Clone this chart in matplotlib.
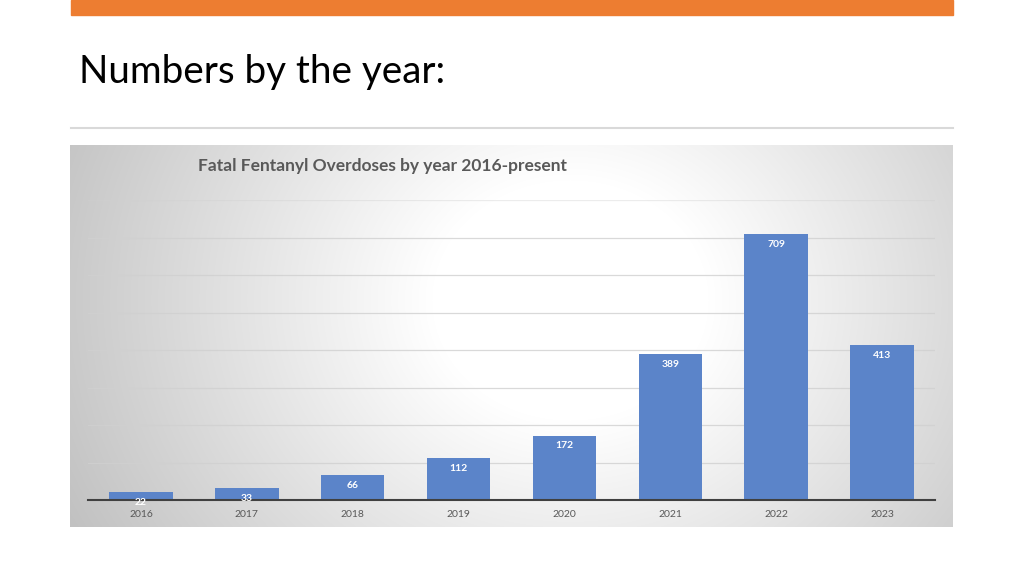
import numpy as np
import matplotlib.pyplot as plt
from matplotlib.patches import Rectangle
from matplotlib.lines import Line2D

years = ["2016", "2017", "2018", "2019", "2020", "2021", "2022", "2023"]
deaths = [22, 33, 66, 112, 172, 389, 709, 413]
grid_vals = [100, 200, 300, 400, 500, 600, 700, 800]

W, H = 1024, 576
fig = plt.figure(figsize=(W / 100, H / 100), dpi=100)
fig.patch.set_facecolor("white")

def fx(px):
    return px / W

def fy(py):
    return 1 - py / H

# orange strip on top
fig.patches.append(Rectangle((fx(71), fy(15)), fx(953) - fx(71), fy(0) - fy(15),
                             transform=fig.transFigure, color="#ED7D31", zorder=0))
# slide title
fig.text(fx(79), fy(72), "Numbers by the year:", fontsize=27.8, family="Lato",
         color="black", va="center", ha="left")
# separator line
fig.lines.append(Line2D([fx(71), fx(953)], [fy(128), fy(128)], transform=fig.transFigure,
                        color="#d9d9d9", lw=1.5))

# chart panel with radial gradient
px0, px1, py0, py1 = 70, 953, 145, 527
bg = fig.add_axes([fx(px0), fy(py1), fx(px1) - fx(px0), fy(py0) - fy(py1)])
gx, gy = np.meshgrid(np.arange(px0, px1), np.arange(py0, py1))
r = np.sqrt(((gx - 570) / 1.15) ** 2 + (gy - 300) ** 2)
t = np.clip((r - 120) / 380, 0, 1)
shade = 1 - t * (1 - 0.75)
img = np.dstack([shade, shade, shade])
bg.imshow(img, aspect="auto", extent=[0, 1, 0, 1], origin="upper")
bg.axis("off")

fig.text(fx(198), fy(166), "Fatal Fentanyl Overdoses by year 2016-present", fontsize=12.5,
         family="Lato", fontweight="bold", color="#595959", va="center", ha="left")

# bar chart
ax = fig.add_axes([fx(88), fy(500), fx(935) - fx(88), fy(200) - fy(500)])
ax.patch.set_alpha(0)
x = np.arange(len(years))
for v in grid_vals:
    ax.axhline(v, color="#d0d0d0", lw=0.9, zorder=0, alpha=0.8 if v < 800 else 0.4)
bars = ax.bar(x, deaths, width=0.6, color="#5b84c9", zorder=2)
for xi, v in zip(x, deaths):
    ax.annotate(str(v), (xi, v), xytext=(0, -7.5), textcoords="offset points",
                ha="center", va="center", color="white", fontsize=7.5,
                fontweight="bold", family="Lato", zorder=6)
ax.set_xlim(-0.5, 7.5)
ax.set_ylim(0, 800)
ax.set_xticks(x)
ax.set_xticklabels(years, fontsize=7.5, color="#595959", family="Lato")
ax.tick_params(axis="x", length=0, pad=7)
ax.set_yticks([])
for s in ["top", "left", "right"]:
    ax.spines[s].set_visible(False)
ax.spines["bottom"].set_color("#404040")
ax.spines["bottom"].set_linewidth(1.5)
ax.spines["bottom"].set_zorder(4)

fig.savefig("out.png", dpi=100)
